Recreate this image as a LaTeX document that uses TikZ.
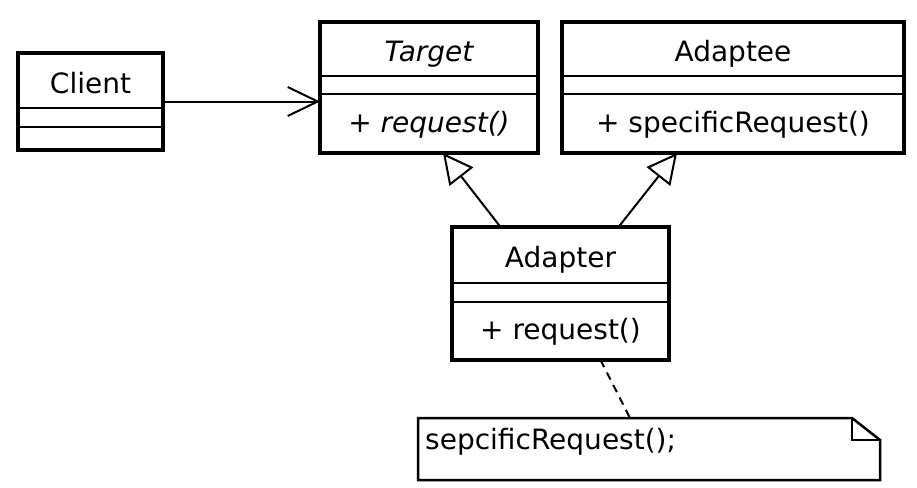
\documentclass[tikz,border=0pt]{standalone}
\usepackage{fontspec}
\setmainfont{DejaVu Sans}
\usetikzlibrary{arrows.meta}
\begin{document}
\begin{tikzpicture}[x=1pt,y=-1pt,
  classbox/.style={draw, line width=4pt, inner sep=0pt, outer sep=0pt, anchor=north west},
  divider/.style={line width=2.5pt},
  lbl/.style={font=\fontsize{28}{32}\selectfont, inner sep=0pt, anchor=base},
  conn/.style={line width=2pt},
  notebox/.style={line width=2.5pt, line join=miter},
  realize/.style={conn, -{Triangle[open,length=30pt,width=30pt,line width=2pt]}},
  assoc/.style={conn, -{Straight Barb[length=30pt,width=29pt,line width=2pt]}}
]
\useasboundingbox (0,0) rectangle (917,487);

% Client
\node[classbox, minimum width=145pt, minimum height=97pt] (client) at (18,53) {};
\draw[divider] ([yshift=-55pt]client.north west) -- ([yshift=-55pt]client.north east);
\draw[divider] ([yshift=-74pt]client.north west) -- ([yshift=-74pt]client.north east);
\node[lbl] (clientname) at ([yshift=-40pt]client.north) {Client};

% Target
\node[classbox, minimum width=218pt, minimum height=131pt] (target) at (320,22) {};
\draw[divider] ([yshift=-54pt]target.north west) -- ([yshift=-54pt]target.north east);
\draw[divider] ([yshift=-72pt]target.north west) -- ([yshift=-72pt]target.north east);
\node[lbl] (targetname) at ([yshift=-40pt]target.north) {\itshape Target};
\node[lbl] (targetop) at ([yshift=-110pt]target.north) {\itshape + request()};

% Adaptee
\node[classbox, minimum width=342pt, minimum height=131pt] (adaptee) at (562,22) {};
\draw[divider] ([yshift=-54pt]adaptee.north west) -- ([yshift=-54pt]adaptee.north east);
\draw[divider] ([yshift=-72pt]adaptee.north west) -- ([yshift=-72pt]adaptee.north east);
\node[lbl] (adapteename) at ([yshift=-40pt]adaptee.north) {Adaptee};
\node[lbl] (adapteeop) at ([yshift=-110pt]adaptee.north) {+ specificRequest()};

% Adapter
\node[classbox, minimum width=217pt, minimum height=133pt] (adapter) at (452,227) {};
\draw[divider] ([yshift=-56pt]adapter.north west) -- ([yshift=-56pt]adapter.north east);
\draw[divider] ([yshift=-75pt]adapter.north west) -- ([yshift=-75pt]adapter.north east);
\node[lbl] (adaptername) at ([yshift=-40pt]adapter.north) {Adapter};
\node[lbl] (adapterop) at ([yshift=-112pt]adapter.north) {+ request()};

% Note
\node[inner sep=0pt, outer sep=0pt, minimum width=462pt, minimum height=62pt, anchor=north west] (note) at (418,418) {};
\draw[notebox] (note.north west) -- ([xshift=-28pt]note.north east) -- ([yshift=-22pt]note.north east)
  -- (note.south east) -- (note.south west) -- cycle;
\draw[notebox] ([xshift=-28pt]note.north east) |- ([yshift=-22pt]note.north east);
\node[lbl, anchor=base west] (notetext) at ([xshift=7pt,yshift=-31pt]note.north west) {sepcificRequest();};

% Connectors
\draw[assoc] (client.east) -- (client.east -| target.west);
\draw[realize] ([xshift=-60pt]adapter.north) -- ([xshift=14pt]target.south);
\draw[realize] ([xshift=58pt]adapter.north) -- ([xshift=-56pt]adaptee.south);
\draw[conn, dash pattern=on 8pt off 6pt] ([xshift=40pt]adapter.south) -- ([xshift=-19pt]note.north);
\end{tikzpicture}
\end{document}
